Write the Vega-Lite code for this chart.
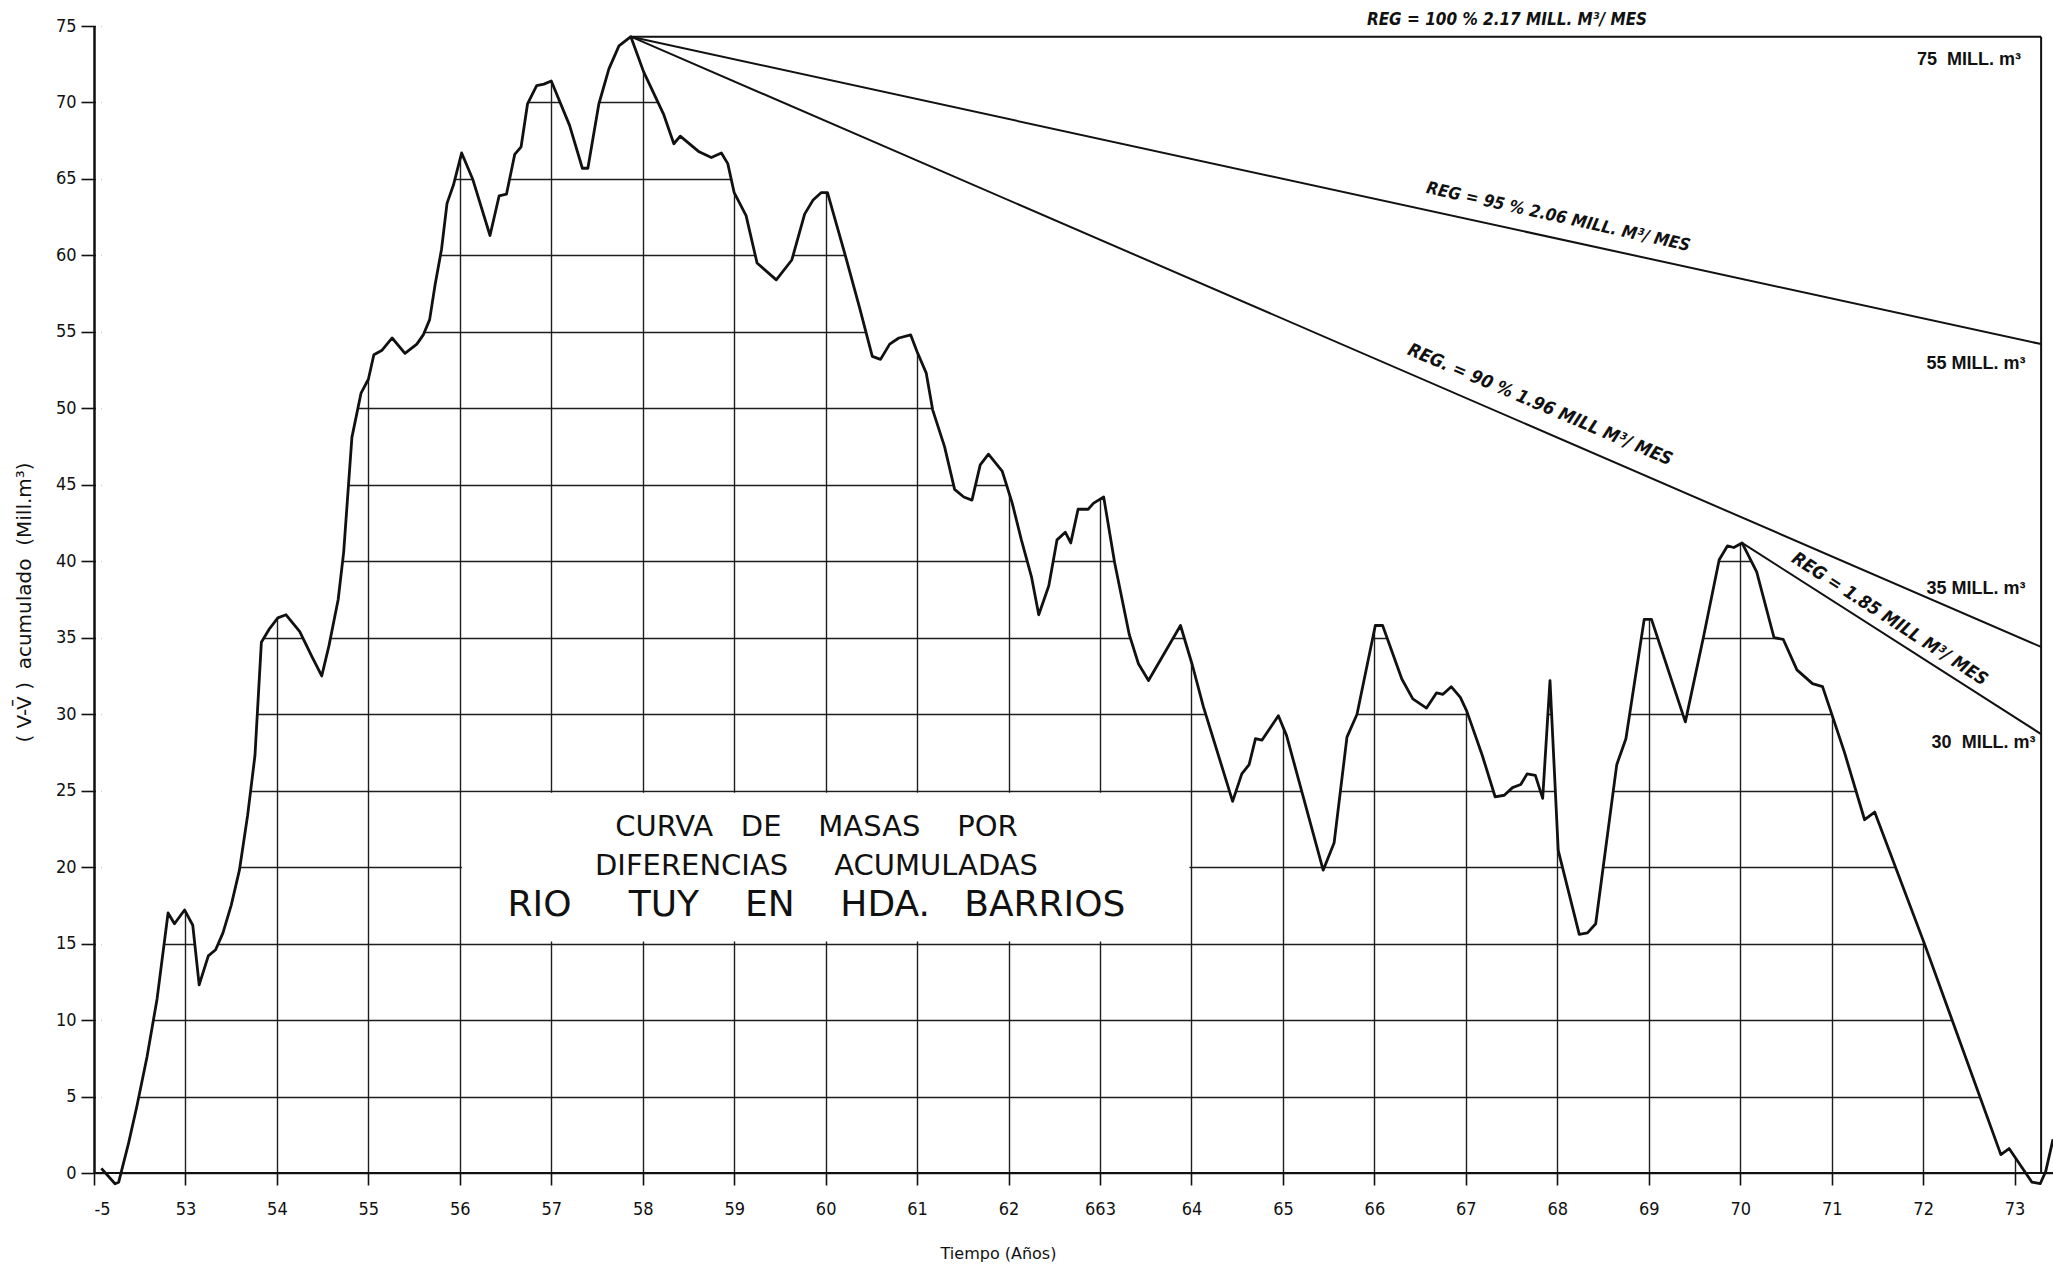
{
  "$schema": "https://vega.github.io/schema/vega-lite/v6.json",
  "width": 1959,
  "height": 1147,
  "autosize": {"type": "none"},
  "padding": {"left": 94, "top": 26, "right": 0, "bottom": 99},
  "background": "white",
  "config": {
    "view": {"stroke": null},
    "axis": {
      "gridColor": "#1e1e1e", "gridWidth": 1.4, "gridOpacity": 1,
      "tickColor": "#111", "tickWidth": 1.6, "domainColor": "#111",
      "labelColor": "#111", "titleColor": "#111",
      "labelFont": "DejaVu Sans Condensed, Liberation Sans, sans-serif", "labelFontSize": 18,
      "titleFont": "DejaVu Sans, Liberation Sans, sans-serif", "titleFontSize": 16, "titleFontWeight": "normal"
    },
    "axisX": {"tickSize": 12, "labelPadding": 15, "domain": false},
    "axisY": {"tickSize": 13, "labelPadding": 5, "domainWidth": 2.4, "titleFontSize": 20}
  },
  "datasets": {
    "curve": [
      {"t": 52.08, "v": 0.3}, {"t": 52.23, "v": -0.7}, {"t": 52.27, "v": -0.6}, {"t": 52.38, "v": 2.0},
      {"t": 52.47, "v": 4.4}, {"t": 52.58, "v": 7.6}, {"t": 52.69, "v": 11.4}, {"t": 52.81, "v": 17.0},
      {"t": 52.88, "v": 16.3}, {"t": 52.99, "v": 17.2}, {"t": 53.08, "v": 16.2}, {"t": 53.15, "v": 12.3},
      {"t": 53.25, "v": 14.2}, {"t": 53.33, "v": 14.6}, {"t": 53.41, "v": 15.7}, {"t": 53.5, "v": 17.5},
      {"t": 53.59, "v": 19.8}, {"t": 53.68, "v": 23.4}, {"t": 53.76, "v": 27.3}, {"t": 53.83, "v": 34.7},
      {"t": 53.92, "v": 35.6}, {"t": 54.01, "v": 36.3}, {"t": 54.1, "v": 36.5}, {"t": 54.25, "v": 35.4},
      {"t": 54.38, "v": 33.8}, {"t": 54.49, "v": 32.5}, {"t": 54.57, "v": 34.5}, {"t": 54.67, "v": 37.5},
      {"t": 54.73, "v": 40.6}, {"t": 54.82, "v": 48.1}, {"t": 54.92, "v": 51.0}, {"t": 55.0, "v": 51.9},
      {"t": 55.06, "v": 53.5}, {"t": 55.15, "v": 53.8}, {"t": 55.26, "v": 54.6}, {"t": 55.4, "v": 53.6},
      {"t": 55.53, "v": 54.2}, {"t": 55.6, "v": 54.8}, {"t": 55.67, "v": 55.8}, {"t": 55.73, "v": 58.1},
      {"t": 55.8, "v": 60.4}, {"t": 55.86, "v": 63.4}, {"t": 55.93, "v": 64.6}, {"t": 56.02, "v": 66.7},
      {"t": 56.14, "v": 65.0}, {"t": 56.33, "v": 61.3}, {"t": 56.43, "v": 63.9}, {"t": 56.51, "v": 64.0},
      {"t": 56.6, "v": 66.6}, {"t": 56.67, "v": 67.1}, {"t": 56.74, "v": 69.9}, {"t": 56.84, "v": 71.1},
      {"t": 56.92, "v": 71.2}, {"t": 57.0, "v": 71.4}, {"t": 57.2, "v": 68.5}, {"t": 57.34, "v": 65.7},
      {"t": 57.4, "v": 65.7}, {"t": 57.52, "v": 69.9}, {"t": 57.63, "v": 72.2}, {"t": 57.74, "v": 73.7},
      {"t": 57.87, "v": 74.3}, {"t": 58.01, "v": 72.0}, {"t": 58.23, "v": 69.2}, {"t": 58.34, "v": 67.3},
      {"t": 58.41, "v": 67.8}, {"t": 58.61, "v": 66.8}, {"t": 58.75, "v": 66.4}, {"t": 58.86, "v": 66.7},
      {"t": 58.93, "v": 66.0}, {"t": 59.0, "v": 64.1}, {"t": 59.13, "v": 62.6}, {"t": 59.25, "v": 59.5},
      {"t": 59.46, "v": 58.4}, {"t": 59.63, "v": 59.7}, {"t": 59.77, "v": 62.7}, {"t": 59.86, "v": 63.6},
      {"t": 59.95, "v": 64.1}, {"t": 60.02, "v": 64.1}, {"t": 60.21, "v": 60.1}, {"t": 60.37, "v": 56.6},
      {"t": 60.51, "v": 53.4}, {"t": 60.6, "v": 53.2}, {"t": 60.7, "v": 54.2}, {"t": 60.8, "v": 54.6},
      {"t": 60.93, "v": 54.8}, {"t": 61.0, "v": 53.7}, {"t": 61.1, "v": 52.3}, {"t": 61.17, "v": 49.9},
      {"t": 61.3, "v": 47.5}, {"t": 61.41, "v": 44.7}, {"t": 61.51, "v": 44.2}, {"t": 61.6, "v": 44.0},
      {"t": 61.69, "v": 46.3}, {"t": 61.78, "v": 47.0}, {"t": 61.93, "v": 45.9}, {"t": 62.04, "v": 43.8},
      {"t": 62.14, "v": 41.4}, {"t": 62.25, "v": 39.0}, {"t": 62.33, "v": 36.5}, {"t": 62.44, "v": 38.4},
      {"t": 62.53, "v": 41.4}, {"t": 62.62, "v": 41.9}, {"t": 62.68, "v": 41.2}, {"t": 62.76, "v": 43.4},
      {"t": 62.87, "v": 43.4}, {"t": 62.93, "v": 43.8}, {"t": 63.04, "v": 44.2}, {"t": 63.16, "v": 39.9},
      {"t": 63.32, "v": 35.2}, {"t": 63.42, "v": 33.3}, {"t": 63.53, "v": 32.2}, {"t": 63.88, "v": 35.8},
      {"t": 64.01, "v": 33.2}, {"t": 64.13, "v": 30.5}, {"t": 64.45, "v": 24.3}, {"t": 64.55, "v": 26.1},
      {"t": 64.63, "v": 26.7}, {"t": 64.7, "v": 28.4}, {"t": 64.77, "v": 28.3}, {"t": 64.95, "v": 29.9},
      {"t": 65.04, "v": 28.6}, {"t": 65.44, "v": 19.8}, {"t": 65.56, "v": 21.6}, {"t": 65.7, "v": 28.5},
      {"t": 65.81, "v": 30.0}, {"t": 66.01, "v": 35.8}, {"t": 66.09, "v": 35.8}, {"t": 66.3, "v": 32.3},
      {"t": 66.42, "v": 31.0}, {"t": 66.57, "v": 30.4}, {"t": 66.68, "v": 31.4}, {"t": 66.75, "v": 31.3},
      {"t": 66.84, "v": 31.8}, {"t": 66.94, "v": 31.1}, {"t": 67.01, "v": 30.2}, {"t": 67.18, "v": 27.3},
      {"t": 67.32, "v": 24.6}, {"t": 67.42, "v": 24.7}, {"t": 67.51, "v": 25.2}, {"t": 67.6, "v": 25.4},
      {"t": 67.67, "v": 26.1}, {"t": 67.76, "v": 26.0}, {"t": 67.84, "v": 24.5}, {"t": 67.92, "v": 32.2},
      {"t": 68.01, "v": 21.1}, {"t": 68.24, "v": 15.6}, {"t": 68.33, "v": 15.7}, {"t": 68.42, "v": 16.3},
      {"t": 68.65, "v": 26.7}, {"t": 68.75, "v": 28.4}, {"t": 68.95, "v": 36.2}, {"t": 69.03, "v": 36.2},
      {"t": 69.4, "v": 29.5}, {"t": 69.6, "v": 35.1}, {"t": 69.77, "v": 40.1}, {"t": 69.86, "v": 41.0},
      {"t": 69.93, "v": 40.9}, {"t": 70.02, "v": 41.2}, {"t": 70.18, "v": 39.3}, {"t": 70.37, "v": 35.0},
      {"t": 70.47, "v": 34.9}, {"t": 70.62, "v": 32.9}, {"t": 70.79, "v": 32.0}, {"t": 70.9, "v": 31.8},
      {"t": 70.99, "v": 30.2}, {"t": 71.14, "v": 27.5}, {"t": 71.36, "v": 23.1}, {"t": 71.47, "v": 23.6},
      {"t": 72.02, "v": 14.9}, {"t": 72.85, "v": 1.2}, {"t": 72.94, "v": 1.6}, {"t": 73.19, "v": -0.6},
      {"t": 73.28, "v": -0.7}, {"t": 73.34, "v": 0.1}, {"t": 73.42, "v": 2.2}
    ],
    "reg": [
      {"t": 57.87, "v": 74.3, "t2": 73.29, "v2": 74.3},
      {"t": 57.87, "v": 74.3, "t2": 73.29, "v2": 54.2},
      {"t": 57.87, "v": 74.3, "t2": 73.29, "v2": 34.4},
      {"t": 70.02, "v": 41.2, "t2": 73.29, "v2": 28.7},
      {"t": 73.29, "v": 74.3, "t2": 73.29, "v2": 0},
      {"t": 52.0, "v": 0, "t2": 73.42, "v2": 0}
    ]
  },
  "layer": [
    {
      "data": {"name": "curve"},
      "mark": {"type": "area", "fill": "white", "stroke": null, "y2Offset": -3},
      "encoding": {
        "x": {
          "field": "t", "type": "quantitative",
          "scale": {"domain": [52, 73.42], "nice": false, "zero": false},
          "axis": {
            "values": [52,53,54,55,56,57,58,59,60,61,62,63,64,65,66,67,68,69,70,71,72,73],
            "grid": true, "format": "d",
            "labelExpr": "datum.value == 52 ? '-5' : (datum.value == 63 ? '663' : format(datum.value, 'd'))",
            "title": "Tiempo (Años)",
            "titleX": 904, "titleY": 80, "titleAlign": "center", "titleBaseline": "middle"
          }
        },
        "y": {
          "field": "v", "type": "quantitative",
          "scale": {"domain": [0, 75], "nice": false, "zero": false},
          "axis": {
            "values": [0,5,10,15,20,25,30,35,40,45,50,55,60,65,70,75],
            "grid": true, "format": "d",
            "title": "( V-V̄ )\u00a0 acumulado\u00a0 (Mill.m³)",
            "titleX": -70, "titleY": 576, "titleAngle": -90, "titleAlign": "center", "titleBaseline": "middle"
          }
        },
        "y2": {"datum": 75}
      }
    },
    {
      "data": {"values": [{"t": 52, "t2": 52.08, "v": 0, "v2": 75}]},
      "mark": {"type": "rect", "fill": "white", "xOffset": 2, "yOffset": -2, "y2Offset": -3},
      "encoding": {
        "x": {"field": "t", "type": "quantitative"},
        "x2": {"field": "t2"},
        "y": {"field": "v", "type": "quantitative"},
        "y2": {"field": "v2"}
      }
    },
    {
      "data": {"values": [{"t": 56, "t2": 64, "v": 25, "v2": 15}]},
      "mark": {"type": "rect", "fill": "white", "xOffset": 2, "x2Offset": -2, "yOffset": 2, "y2Offset": -2},
      "encoding": {
        "x": {"field": "t", "type": "quantitative"},
        "x2": {"field": "t2"},
        "y": {"field": "v", "type": "quantitative"},
        "y2": {"field": "v2"}
      }
    },
    {
      "data": {"name": "reg"},
      "mark": {"type": "rule", "color": "#111", "strokeWidth": 2},
      "encoding": {
        "x": {"field": "t", "type": "quantitative"},
        "x2": {"field": "t2"},
        "y": {"field": "v", "type": "quantitative"},
        "y2": {"field": "v2"}
      }
    },
    {
      "data": {"name": "curve"},
      "mark": {"type": "line", "color": "#111", "strokeWidth": 2.8, "strokeJoin": "round"},
      "encoding": {
        "x": {"field": "t", "type": "quantitative"},
        "y": {"field": "v", "type": "quantitative"}
      }
    },
    {
      "data": {"values": [{"t": 67.45, "v": 75.4, "label": "REG = 100 % 2.17 MILL. M³/ MES"}]},
      "mark": {"type": "text", "font": "DejaVu Sans Condensed, Liberation Sans, sans-serif", "fontStyle": "italic", "fontWeight": "bold", "fontSize": 17, "color": "#111", "align": "center", "baseline": "middle", "angle": 0},
      "encoding": {"x": {"field": "t", "type": "quantitative"}, "y": {"field": "v", "type": "quantitative"}, "text": {"field": "label"}}
    },
    {
      "data": {"values": [{"t": 68.01, "v": 62.5, "label": "REG = 95 % 2.06 MILL. M³/ MES"}]},
      "mark": {"type": "text", "font": "DejaVu Sans Condensed, Liberation Sans, sans-serif", "fontStyle": "italic", "fontWeight": "bold", "fontSize": 17, "color": "#111", "align": "center", "baseline": "middle", "angle": 12.5},
      "encoding": {"x": {"field": "t", "type": "quantitative"}, "y": {"field": "v", "type": "quantitative"}, "text": {"field": "label"}}
    },
    {
      "data": {"values": [{"t": 67.81, "v": 50.2, "label": "REG. = 90 % 1.96 MILL M³/ MES"}]},
      "mark": {"type": "text", "font": "DejaVu Sans Condensed, Liberation Sans, sans-serif", "fontStyle": "italic", "fontWeight": "bold", "fontSize": 18, "color": "#111", "align": "center", "baseline": "middle", "angle": 23},
      "encoding": {"x": {"field": "t", "type": "quantitative"}, "y": {"field": "v", "type": "quantitative"}, "text": {"field": "label"}}
    },
    {
      "data": {"values": [{"t": 71.63, "v": 36.2, "label": "REG = 1.85 MILL M³/ MES"}]},
      "mark": {"type": "text", "font": "DejaVu Sans Condensed, Liberation Sans, sans-serif", "fontStyle": "italic", "fontWeight": "bold", "fontSize": 18, "color": "#111", "align": "center", "baseline": "middle", "angle": 33},
      "encoding": {"x": {"field": "t", "type": "quantitative"}, "y": {"field": "v", "type": "quantitative"}, "text": {"field": "label"}}
    },
    {
      "data": {"values": [
        {"t": 73.07, "v": 72.8, "label": "75\u00a0 MILL. m³"},
        {"t": 73.12, "v": 52.9, "label": "55 MILL. m³"},
        {"t": 73.12, "v": 38.2, "label": "35 MILL. m³"},
        {"t": 73.23, "v": 28.1, "label": "30\u00a0 MILL. m³"}
      ]},
      "mark": {"type": "text", "font": "Liberation Sans", "fontWeight": "bold", "fontSize": 18, "color": "#111", "align": "right", "baseline": "middle"},
      "encoding": {"x": {"field": "t", "type": "quantitative"}, "y": {"field": "v", "type": "quantitative"}, "text": {"field": "label"}}
    },
    {
      "data": {"values": [
        {"t": 59.9, "v": 22.6, "label": "CURVA\u00a0 \u00a0DE\u00a0 \u00a0 MASAS\u00a0 \u00a0 POR"},
        {"t": 59.9, "v": 20.1, "label": "DIFERENCIAS\u00a0 \u00a0 \u00a0ACUMULADAS"}
      ]},
      "mark": {"type": "text", "font": "DejaVu Sans", "fontSize": 29, "color": "#111", "align": "center", "baseline": "middle"},
      "encoding": {"x": {"field": "t", "type": "quantitative"}, "y": {"field": "v", "type": "quantitative"}, "text": {"field": "label"}}
    },
    {
      "data": {"values": [{"t": 59.9, "v": 17.5, "label": "RIO\u00a0 \u00a0 \u00a0TUY\u00a0 \u00a0 EN\u00a0 \u00a0 HDA.\u00a0 \u00a0BARRIOS"}]},
      "mark": {"type": "text", "font": "DejaVu Sans", "fontSize": 36, "color": "#111", "align": "center", "baseline": "middle"},
      "encoding": {"x": {"field": "t", "type": "quantitative"}, "y": {"field": "v", "type": "quantitative"}, "text": {"field": "label"}}
    }
  ]
}
